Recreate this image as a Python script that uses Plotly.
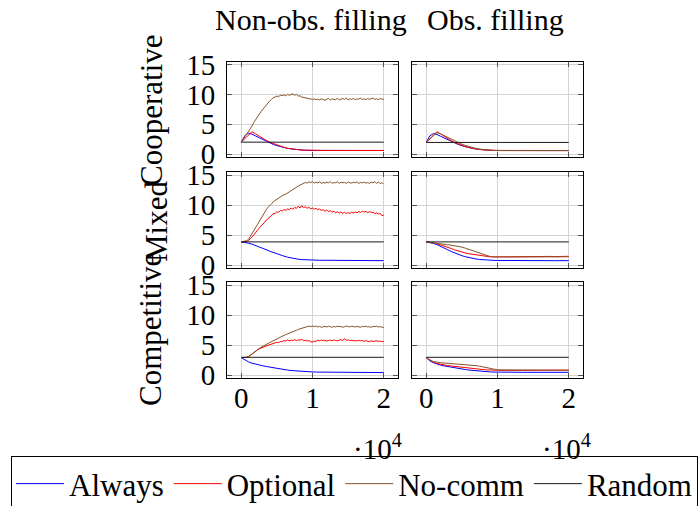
import plotly.graph_objects as go

# ---------------- data ----------------
X500 = list(range(0, 20001, 500))
X250 = list(range(0, 20001, 250))
X_ENDS = [0, 20000]

series_names = ["Always", "Optional", "No-comm", "Random"]
col_titles = ["Non-obs. filling", "Obs. filling"]
row_titles = ["Cooperative", "Mixed", "Competitive"]
x_tick_vals = [0, 10000, 20000]
x_tick_text = ["0", "1", "2"]
y_tick_vals = [0, 5, 10, 15]

# Cooperative, non-observable filling
always_coop_nonobs = [2.0, 3.1, 3.5, 3.35, 3.05, 2.75, 2.45, 2.15, 1.88, 1.62, 1.42, 1.24, 1.08, 0.95, 0.85,
                      0.77, 0.71, 0.67, 0.64, 0.62, 0.61, 0.6, 0.6, 0.6, 0.6, 0.6, 0.6, 0.6, 0.6, 0.6,
                      0.6, 0.6, 0.6, 0.6, 0.6, 0.6, 0.6, 0.6, 0.6, 0.6, 0.6]
optional_coop_nonobs = [2.0, 2.6, 3.3, 3.75, 3.4, 3.0, 2.6, 2.3, 2.0, 1.75, 1.5, 1.3, 1.12, 0.98, 0.87,
                        0.79, 0.72, 0.67, 0.64, 0.62, 0.61, 0.6, 0.6, 0.6, 0.6, 0.6, 0.6, 0.6, 0.6, 0.6,
                        0.6, 0.6, 0.6, 0.6, 0.6, 0.6, 0.6, 0.6, 0.6, 0.6, 0.6]
nocomm_coop_nonobs = [2.0, 2.45, 2.85, 3.3, 3.7, 4.15, 4.7, 5.3, 5.8, 6.2, 6.7, 7.1, 7.5, 7.85, 8.3, 8.7,
                      8.95, 9.2, 9.5, 9.6, 9.75, 9.7, 9.9, 9.85, 9.95, 9.8, 10.05, 9.9, 10.0, 10.15, 9.9,
                      10.05, 9.75, 9.8, 9.6, 9.55, 9.4, 9.45, 9.3, 9.35, 9.2,
                      9.3, 9.15, 9.25, 9.1, 9.3, 9.2, 9.05, 9.25, 9.35, 9.1, 9.3, 9.2, 9.15, 9.4, 9.1,
                      9.25, 9.35, 9.2, 9.45, 9.1, 9.3, 9.2, 9.35, 9.15, 9.3, 9.25, 9.4, 9.2, 9.3, 9.15,
                      9.35, 9.2, 9.3, 9.45, 9.2, 9.3, 9.15, 9.35, 9.25, 9.2]
random_coop_nonobs = [2.0, 2.0]

# Cooperative, observable filling
always_coop_obs = [2.0, 3.05, 3.45, 3.3, 3.0, 2.7, 2.4, 2.1, 1.85, 1.6, 1.4, 1.22, 1.07, 0.94, 0.84,
                   0.76, 0.7, 0.65, 0.62, 0.6, 0.59, 0.58, 0.58, 0.58, 0.58, 0.58, 0.58, 0.58, 0.58, 0.58,
                   0.58, 0.58, 0.58, 0.58, 0.58, 0.58, 0.58, 0.58, 0.58, 0.58, 0.58]
optional_coop_obs = [2.0, 2.6, 3.3, 3.75, 3.4, 3.0, 2.6, 2.25, 1.95, 1.68, 1.45, 1.25, 1.08, 0.95, 0.84,
                     0.76, 0.7, 0.65, 0.62, 0.6, 0.59, 0.58, 0.58, 0.58, 0.58, 0.58, 0.58, 0.58, 0.58, 0.58,
                     0.58, 0.58, 0.58, 0.58, 0.58, 0.58, 0.58, 0.58, 0.58, 0.58, 0.58]
nocomm_coop_obs = [2.0, 2.55, 3.2, 3.6, 3.4, 3.1, 2.8, 2.5, 2.2, 1.9, 1.65, 1.45, 1.25, 1.08, 0.94,
                   0.83, 0.74, 0.68, 0.64, 0.61, 0.6, 0.6, 0.6, 0.6, 0.6, 0.6, 0.6, 0.6, 0.6, 0.6,
                   0.6, 0.6, 0.6, 0.6, 0.6, 0.6, 0.6, 0.6, 0.6, 0.6, 0.6]
random_coop_obs = [1.95, 1.95]

# Mixed, non-observable filling
always_mixed_nonobs = [3.85, 3.78, 3.65, 3.48, 3.28, 3.05, 2.8, 2.55, 2.3, 2.07, 1.85, 1.65, 1.47, 1.3, 1.15,
                       1.04, 0.96, 0.9, 0.86, 0.83, 0.81, 0.8, 0.79, 0.79, 0.78, 0.78, 0.77, 0.77, 0.76, 0.76,
                       0.76, 0.75, 0.75, 0.75, 0.74, 0.74, 0.74, 0.73, 0.73, 0.73, 0.72]
optional_mixed_nonobs = [3.85, 3.85, 3.9, 3.95, 4.05, 4.3, 4.65, 5.0, 5.3, 5.75, 6.1, 6.5, 6.8, 7.05, 7.5, 7.7,
                         8.0, 8.2, 8.55, 8.6, 8.85, 8.8, 9.1, 9.0, 9.25, 9.1, 9.35, 9.2, 9.5, 9.3, 9.6,
                         9.45, 9.8, 9.5, 9.9, 9.55, 9.7, 9.45, 9.6, 9.35, 9.5,
                         9.3, 9.45, 9.2, 9.35, 9.1, 9.2, 8.95, 9.15, 8.9, 9.05, 8.8, 8.95, 8.7, 8.9, 8.65,
                         8.85, 8.6, 8.8, 8.55, 8.75, 8.6, 8.8, 8.65, 8.85, 8.7, 8.9, 8.75, 9.0, 8.8, 8.95,
                         8.7, 8.9, 8.75, 8.8, 8.55, 8.7, 8.5, 8.6, 8.2, 8.35]
nocomm_mixed_nonobs = [3.85, 3.9, 3.95, 4.05, 4.25, 4.7, 5.15, 5.6, 6.1, 6.7, 7.2, 7.75, 8.25, 8.7, 9.2, 9.6,
                       10.0, 10.2, 10.55, 10.75, 11.0, 11.1, 11.4, 11.5, 11.75, 11.8, 12.0, 12.15, 12.35,
                       12.6, 12.75, 12.95, 13.1, 13.35, 13.45, 13.6, 13.75, 13.65, 13.85, 13.75, 13.9,
                       13.65, 13.8, 13.7, 13.85, 13.6, 13.75, 13.65, 13.8, 13.7, 13.9, 13.6, 13.75, 13.7,
                       13.85, 13.6, 13.8, 13.7, 13.75, 13.6, 13.85, 13.7, 13.65, 13.8, 13.7, 13.85, 13.6,
                       13.75, 13.7, 13.8, 13.65, 13.75, 13.6, 13.8, 13.7, 13.9, 13.6, 13.85, 13.55, 13.75,
                       13.45]
random_mixed_nonobs = [3.85, 3.85]

# Mixed, observable filling
always_mixed_obs = [3.85, 3.75, 3.6, 3.4, 3.15, 2.85, 2.55, 2.25, 1.98, 1.75, 1.55, 1.38, 1.23, 1.1, 1.0,
                    0.92, 0.86, 0.82, 0.79, 0.77, 0.76, 0.75, 0.75, 0.75, 0.74, 0.74, 0.74, 0.74, 0.73, 0.73,
                    0.73, 0.73, 0.73, 0.72, 0.72, 0.72, 0.72, 0.72, 0.72, 0.72, 0.72]
optional_mixed_obs = [3.85, 3.8, 3.7, 3.55, 3.38, 3.2, 2.98, 2.75, 2.52, 2.32, 2.15, 2.0, 1.87, 1.77, 1.68,
                      1.58, 1.48, 1.4, 1.36, 1.35, 1.36, 1.38, 1.4, 1.37, 1.41, 1.39, 1.42, 1.4, 1.38, 1.43,
                      1.4, 1.42, 1.39, 1.44, 1.41, 1.43, 1.4, 1.45, 1.42, 1.44, 1.45]
nocomm_mixed_obs = [3.85, 3.75, 3.65, 3.58, 3.5, 3.43, 3.37, 3.3, 3.22, 3.12, 2.98, 2.8, 2.6, 2.42, 2.22,
                    2.0, 1.78, 1.55, 1.4, 1.35, 1.33, 1.33, 1.33, 1.34, 1.33, 1.34, 1.34, 1.35, 1.34, 1.35,
                    1.35, 1.35, 1.36, 1.35, 1.36, 1.36, 1.36, 1.37, 1.36, 1.37, 1.37]
random_mixed_obs = [3.85, 3.85]

# Competitive, non-observable filling
always_comp_nonobs = [2.9, 2.5, 2.2, 1.97, 1.8, 1.66, 1.54, 1.42, 1.3, 1.18, 1.08, 0.99, 0.9, 0.82, 0.75,
                      0.69, 0.64, 0.6, 0.56, 0.53, 0.51, 0.49, 0.48, 0.47, 0.46, 0.45, 0.45, 0.44, 0.44, 0.43,
                      0.43, 0.43, 0.42, 0.42, 0.42, 0.41, 0.41, 0.41, 0.4, 0.4, 0.4]
optional_comp_nonobs = [2.9, 2.9, 2.92, 2.95, 3.05, 3.3, 3.55, 3.75, 3.95, 4.15, 4.35, 4.5, 4.65, 4.75, 4.85,
                        4.95, 5.05, 5.1, 5.25, 5.3, 5.45, 5.4, 5.6, 5.55, 5.75, 5.65, 5.85, 5.7, 5.8, 5.75,
                        5.9, 5.7, 5.85, 5.8, 5.95, 5.7, 5.8, 5.65, 5.75, 5.55, 5.5,
                        5.65, 5.6, 5.8, 5.7, 5.85, 5.7, 5.8, 5.65, 5.75, 5.8, 5.7, 5.85, 5.75, 5.7, 5.8,
                        5.9, 5.75, 6.05, 5.8, 5.85, 5.75, 5.8, 5.7, 5.75, 5.65, 5.8, 5.7, 5.75, 5.6, 5.7,
                        5.65, 5.55, 5.7, 5.6, 5.65, 5.7, 5.6, 5.65, 5.55, 5.6]
nocomm_comp_nonobs = [2.9, 2.9, 2.92, 2.95, 3.05, 3.3, 3.55, 3.75, 3.95, 4.15, 4.4, 4.6, 4.8, 4.95, 5.1,
                      5.25, 5.4, 5.55, 5.75, 5.95, 6.05, 6.25, 6.4, 6.5, 6.65, 6.75, 6.85, 6.95, 7.1, 7.2,
                      7.35, 7.45, 7.6, 7.7, 7.8, 7.9, 8.0, 8.1, 8.15, 8.05, 8.2,
                      8.05, 8.15, 8.0, 8.1, 7.95, 8.05, 8.1, 8.0, 8.15, 8.05, 7.95, 8.1, 8.0, 8.15, 8.05,
                      8.1, 7.95, 8.05, 8.15, 8.1, 8.0, 8.15, 8.05, 8.0, 8.1, 8.05, 7.95, 8.1, 8.05, 8.15,
                      8.0, 8.05, 7.95, 8.1, 8.05, 8.15, 8.0, 8.05, 7.95, 7.9]
random_comp_nonobs = [2.95, 2.95]

# Competitive, observable filling
always_comp_obs = [2.9, 2.35, 2.05, 1.82, 1.65, 1.52, 1.4, 1.29, 1.19, 1.09, 1.0, 0.91, 0.83, 0.76, 0.69,
                   0.63, 0.58, 0.54, 0.51, 0.49, 0.47, 0.46, 0.46, 0.46, 0.45, 0.45, 0.45, 0.45, 0.45, 0.45,
                   0.45, 0.45, 0.45, 0.45, 0.45, 0.45, 0.45, 0.45, 0.45, 0.45, 0.45]
optional_comp_obs = [2.9, 2.45, 2.15, 1.92, 1.78, 1.68, 1.58, 1.5, 1.42, 1.35, 1.28, 1.2, 1.13, 1.06, 1.0,
                     0.95, 0.9, 0.85, 0.81, 0.78, 0.76, 0.76, 0.77, 0.76, 0.77, 0.78, 0.77, 0.78, 0.78, 0.79,
                     0.78, 0.79, 0.79, 0.8, 0.79, 0.8, 0.8, 0.81, 0.8, 0.81, 0.8]
nocomm_comp_obs = [2.9, 2.5, 2.25, 2.12, 2.05, 2.0, 1.96, 1.92, 1.88, 1.84, 1.8, 1.76, 1.72, 1.65, 1.56,
                   1.46, 1.35, 1.2, 1.05, 0.93, 0.86, 0.85, 0.85, 0.84, 0.84, 0.84, 0.83, 0.83, 0.83, 0.83,
                   0.82, 0.82, 0.82, 0.82, 0.81, 0.81, 0.81, 0.81, 0.8, 0.8, 0.8]
random_comp_obs = [2.95, 2.95]

# ---------------- figure ----------------
COLORS = {"Always": "#0000ff", "Optional": "#ff0000", "No-comm": "#85552a", "Random": "#1a1a1a"}
FONT = "Liberation Serif"
FS_TICK = 29
FS_TITLE = 30
FS_ROW = 31
FS_LEG = 31

panels = [
    [
        [(X500, always_coop_nonobs), (X500, optional_coop_nonobs), (X250, nocomm_coop_nonobs), (X_ENDS, random_coop_nonobs)],
        [(X500, always_coop_obs), (X500, optional_coop_obs), (X500, nocomm_coop_obs), (X_ENDS, random_coop_obs)],
    ],
    [
        [(X500, always_mixed_nonobs), (X250, optional_mixed_nonobs), (X250, nocomm_mixed_nonobs), (X_ENDS, random_mixed_nonobs)],
        [(X500, always_mixed_obs), (X500, optional_mixed_obs), (X500, nocomm_mixed_obs), (X_ENDS, random_mixed_obs)],
    ],
    [
        [(X500, always_comp_nonobs), (X250, optional_comp_nonobs), (X250, nocomm_comp_nonobs), (X_ENDS, random_comp_nonobs)],
        [(X500, always_comp_obs), (X500, optional_comp_obs), (X500, nocomm_comp_obs), (X_ENDS, random_comp_obs)],
    ],
]

W, H = 699, 506
ML, MR, MT, MB = 227, 0, 62, 128
PW, PH = W - ML - MR, H - MT - MB

def px_x(px):
    return (px - ML) / PW

def px_y(py):
    return (H - MB - py) / PH

col_px = [(227, 398), (412, 583)]
row_px = [(62, 157), (172, 268), (282, 378)]

fig = go.Figure()
layout = dict(
    width=W, height=H,
    margin=dict(l=ML, r=MR, t=MT, b=MB, pad=0, autoexpand=False),
    paper_bgcolor="white", plot_bgcolor="white",
    font=dict(family=FONT, size=FS_TICK, color="black"),
    showlegend=True,
)

idx = 0
for r in range(3):
    for c in range(2):
        idx += 1
        xa = "x" if idx == 1 else f"x{idx}"
        ya = "y" if idx == 1 else f"y{idx}"
        for s, (xs, ys) in enumerate(panels[r][c]):
            name = series_names[s]
            fig.add_trace(go.Scatter(
                x=xs, y=ys, mode="lines", name=name, legendgroup=name,
                showlegend=(idx == 1),
                line=dict(color=COLORS[name], width=1),
                xaxis=xa, yaxis=ya, hoverinfo="skip",
            ))
        common = dict(
            showline=True, linecolor="black", linewidth=1, mirror="ticks",
            ticks="inside", ticklen=5, tickwidth=1, tickcolor="#555555",
            showgrid=True, gridcolor="#d4d4d4", gridwidth=1, zeroline=False,
            tickfont=dict(family=FONT, size=FS_TICK, color="black"),
        )
        layout["xaxis" if idx == 1 else f"xaxis{idx}"] = dict(
            common,
            domain=[px_x(col_px[c][0]), px_x(col_px[c][1])],
            anchor=ya, range=[-2000, 22000],
            tickvals=x_tick_vals, ticktext=x_tick_text,
            showticklabels=(r == 2), ticklabelstandoff=-6,
        )
        layout["yaxis" if idx == 1 else f"yaxis{idx}"] = dict(
            common,
            domain=[px_y(row_px[r][1]), px_y(row_px[r][0])],
            anchor=xa, range=[-0.5, 15.5],
            tickvals=y_tick_vals,
            showticklabels=(c == 0), ticklabelstandoff=5,
        )

annotations = []
title_x = [311, 495]
for c, t in enumerate(col_titles):
    annotations.append(dict(text=t, x=px_x(title_x[c]), y=px_y(20), xref="paper", yref="paper",
                            showarrow=False, xanchor="center", yanchor="middle",
                            font=dict(family=FONT, size=FS_TITLE)))
row_label_x = [151, 156, 150]
row_label_y = [110, 222, 330]
for r, t in enumerate(row_titles):
    annotations.append(dict(text=t, x=px_x(row_label_x[r]), y=px_y(row_label_y[r]), xref="paper", yref="paper",
                            showarrow=False, xanchor="center", yanchor="middle", textangle=-90,
                            font=dict(family=FONT, size=FS_ROW)))
for cx in [377, 566]:
    annotations.append(dict(text="·10<sup>4</sup>", x=px_x(cx), y=px_y(447), xref="paper", yref="paper",
                            showarrow=False, xanchor="center", yanchor="middle",
                            font=dict(family=FONT, size=FS_TICK)))
layout["annotations"] = annotations

layout["legend"] = dict(
    orientation="h", x=px_x(11), y=px_y(456), xanchor="left", yanchor="top",
    bordercolor="black", borderwidth=1, bgcolor="white",
    font=dict(family=FONT, size=FS_LEG), itemwidth=48, tracegroupgap=0,
)

fig.update_layout(**layout)
fig.write_html("out.html")
